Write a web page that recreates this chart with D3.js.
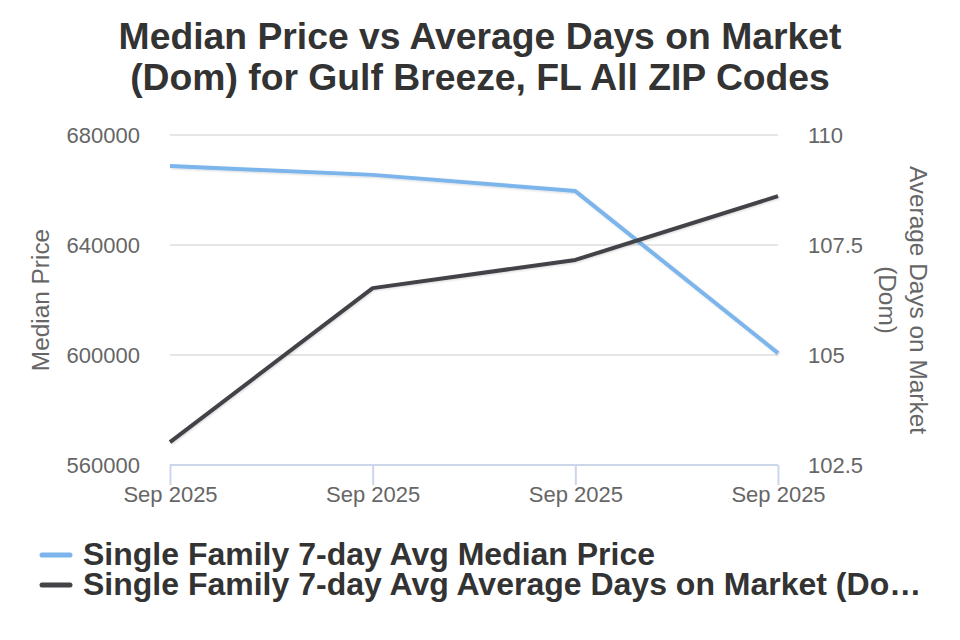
<!DOCTYPE html>
<html>
<head>
<meta charset="utf-8">
<script src="https://cdn.jsdelivr.net/npm/d3@7"></script>
<style>
  body { margin: 0; background: #fff; }
  text { font-family: "Liberation Sans", Arial, sans-serif; }
</style>
</head>
<body>
<script>
// chart data
var dates = ['Sep 2025', 'Sep 2025', 'Sep 2025', 'Sep 2025'];
var medianPrice = [668700, 665500, 659600, 600700];
var avgDom = [103.02, 106.52, 107.16, 108.61];
var priceTicks = [560000, 600000, 640000, 680000];
var domTicks = [102.5, 105, 107.5, 110];
var seriesNames = ['Single Family 7-day Avg Median Price', 'Single Family 7-day Avg Average Days on Market (Do\u2026'];
var colors = ['#7cb5ec', '#434348'];

var width = 960, height = 640;
// plot box (don't call these top/left, window.top is read only)
var plotL = 170, plotR = 778, plotT = 135, plotB = 465;
var tickFont = 22;

var svg = d3.select('body').append('svg')
  .attr('width', width)
  .attr('height', height);

// drop shadow like the original
var defs = svg.append('defs');
var f = defs.append('filter').attr('id', 'shadow').attr('x', '-10%').attr('y', '-10%').attr('width', '120%').attr('height', '130%');
f.append('feDropShadow').attr('dx', 1).attr('dy', 1).attr('stdDeviation', 1).attr('flood-color', '#000').attr('flood-opacity', 0.15);

// title
var title = svg.append('text')
  .attr('text-anchor', 'middle')
  .attr('font-size', 37.3).attr('font-weight', 'bold').attr('fill', '#333333');
title.append('tspan').attr('x', 480).attr('y', 49).text('Median Price vs Average Days on Market');
title.append('tspan').attr('x', 480).attr('y', 90).text('(Dom) for Gulf Breeze, FL All ZIP Codes');

// scales
var x = d3.scalePoint().domain(d3.range(dates.length)).range([plotL, plotR]);
var yL = d3.scaleLinear().domain([560000, 680000]).range([plotB, plotT]);
var yR = d3.scaleLinear().domain([102.5, 110]).range([plotB, plotT]);

// grid
svg.append('g').selectAll('line').data(priceTicks.slice(1)).join('line')
  .attr('x1', plotL).attr('x2', plotR)
  .attr('y1', function(d) { return yL(d); }).attr('y2', function(d) { return yL(d); })
  .attr('stroke', '#e6e6e6').attr('stroke-width', 2);

// left axis
var gl = svg.append('g').attr('transform', 'translate(' + (plotL - 30) + ',0)')
  .call(d3.axisLeft(yL).tickValues(priceTicks).tickSize(0).tickPadding(0).tickFormat(d3.format('d')));
gl.select('.domain').remove();
gl.selectAll('text').attr('font-size', tickFont).attr('fill', '#666666').attr('font-family', '"Liberation Sans", Arial, sans-serif').attr('dy', '0.32em');

// right axis
var gr = svg.append('g').attr('transform', 'translate(' + (plotR + 30) + ',0)')
  .call(d3.axisRight(yR).tickValues(domTicks).tickSize(0).tickPadding(0).tickFormat(function(d) { return d; }));
gr.select('.domain').remove();
gr.selectAll('text').attr('font-size', tickFont).attr('fill', '#666666').attr('font-family', '"Liberation Sans", Arial, sans-serif').attr('dy', '0.32em');

// x axis
var gx = svg.append('g').attr('transform', 'translate(0,' + plotB + ')')
  .call(d3.axisBottom(x).tickSize(20).tickPadding(2).tickFormat(function(i) { return dates[i]; }));
gx.select('.domain').attr('stroke', '#ccd6eb').attr('stroke-width', 2).attr('d', 'M' + plotL + ',0H' + plotR);
gx.selectAll('.tick line').attr('stroke', '#ccd6eb').attr('stroke-width', 2);
gx.selectAll('text').attr('font-size', tickFont).attr('fill', '#666666').attr('font-family', '"Liberation Sans", Arial, sans-serif')
  .attr('y', 21).attr('dy', '0.71em');

// axis titles
svg.append('text').attr('transform', 'translate(49,' + ((plotT + plotB) / 2) + ') rotate(-90)')
  .attr('text-anchor', 'middle').attr('font-size', 24.4).attr('fill', '#666666').text('Median Price');
var rt = svg.append('text').attr('transform', 'translate(910,' + ((plotT + plotB) / 2) + ') rotate(90)')
  .attr('text-anchor', 'middle').attr('font-size', 24.4).attr('fill', '#666666');
rt.append('tspan').attr('x', 0).attr('y', 0).text('Average Days on Market');
rt.append('tspan').attr('x', 0).attr('y', 31).text('(Dom)');

// lines
var lineL = d3.line().x(function(d, i) { return x(i); }).y(function(d) { return yL(d); });
var lineR = d3.line().x(function(d, i) { return x(i); }).y(function(d) { return yR(d); });

svg.append('path').datum(medianPrice).attr('d', lineL)
  .attr('fill', 'none').attr('stroke', colors[0]).attr('stroke-width', 4)
  .attr('stroke-linejoin', 'round').attr('filter', 'url(#shadow)');
svg.append('path').datum(avgDom).attr('d', lineR)
  .attr('fill', 'none').attr('stroke', colors[1]).attr('stroke-width', 4)
  .attr('stroke-linejoin', 'round').attr('filter', 'url(#shadow)');

// legend
var lg = svg.append('g').selectAll('g').data(seriesNames).join('g')
  .attr('transform', function(d, i) { return 'translate(0,' + (555 + i * 30) + ')'; });
lg.append('line').attr('x1', 42).attr('x2', 70).attr('y1', 0).attr('y2', 0)
  .attr('stroke', function(d, i) { return colors[i]; }).attr('stroke-width', 5).attr('stroke-linecap', 'round');
lg.append('text').attr('x', 83).attr('y', 10).attr('font-size', 32).attr('font-weight', 'bold').attr('fill', '#333333')
  .text(function(d) { return d; });
</script>
</body>
</html>
